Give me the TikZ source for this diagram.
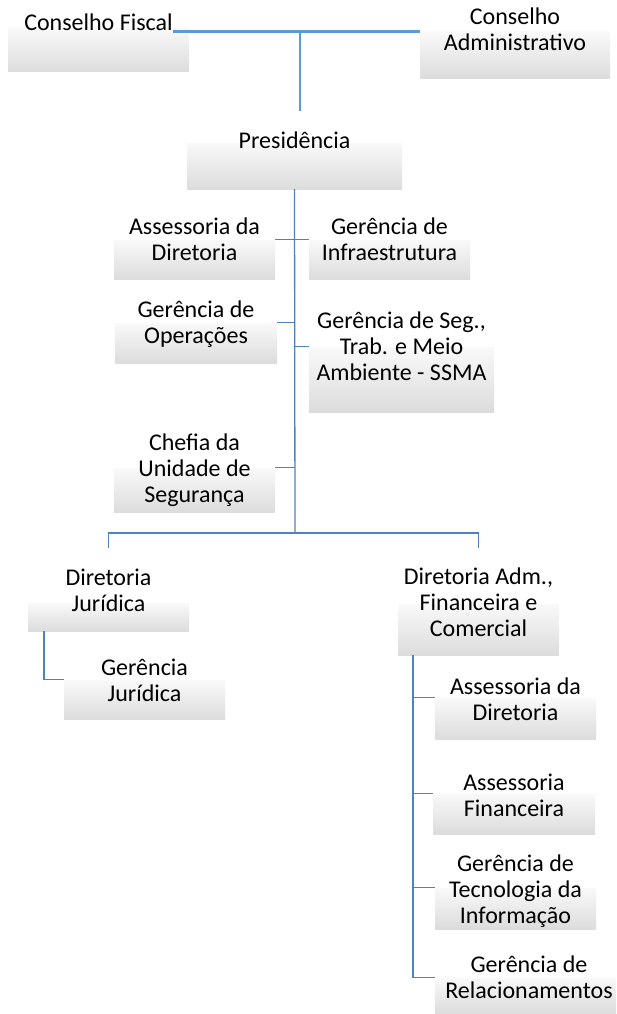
\documentclass[tikz,border=0pt]{standalone}
\usepackage{fontspec}
\setmainfont{Carlito}
\definecolor{topblue}{HTML}{5B9BD5}
\definecolor{linkblue}{HTML}{4F81BD}
\definecolor{boxtop}{HTML}{F9F9F9}
\definecolor{boxbot}{HTML}{DCDCDC}
\tikzset{
  orgbox/.style={rectangle, draw=none, inner sep=0pt, top color=boxtop, bottom color=boxbot},
  orgtext/.style={inner sep=0pt, align=center, font=\fontsize{24}{26}\selectfont, text=black, yshift=-1.5pt},
  thickconn/.style={draw=topblue, line width=2.7pt},
  conn/.style={draw=linkblue, line width=1.3pt},
}
\begin{document}
\begin{tikzpicture}[x=1pt,y=-1pt]
\useasboundingbox (0,0) rectangle (616,1014);
% boxes
\node[orgbox, minimum width=181pt, minimum height=44pt] (cf)   at (98.5,50) {};
\node[orgbox, minimum width=190pt, minimum height=47pt] (ca)   at (515,55.5) {};
\node[orgbox, minimum width=215pt, minimum height=46pt] (pres) at (294.5,166) {};
\node[orgbox, minimum width=161pt, minimum height=39pt] (adl)  at (194.5,259.5) {};
\node[orgbox, minimum width=161pt, minimum height=39pt] (gi)   at (389.5,259.5) {};
\node[orgbox, minimum width=162pt, minimum height=40pt] (go)   at (196,343) {};
\node[orgbox, minimum width=185pt, minimum height=65pt] (ssma) at (401.5,379.5) {};
\node[orgbox, minimum width=161pt, minimum height=44pt] (ch)   at (194.5,490) {};
\node[orgbox, minimum width=161pt, minimum height=28pt] (dj)   at (108.5,617) {};
\node[orgbox, minimum width=161pt, minimum height=51pt] (dafc) at (478.5,629.5) {};
\node[orgbox, minimum width=161pt, minimum height=39pt] (gj)   at (144.5,699.5) {};
\node[orgbox, minimum width=161pt, minimum height=41pt] (adr)  at (515.5,718.5) {};
\node[orgbox, minimum width=162pt, minimum height=40pt] (af)   at (514,814) {};
\node[orgbox, minimum width=161pt, minimum height=41pt] (gti)  at (515.5,908.5) {};
\node[orgbox, minimum width=181pt, minimum height=35pt] (gr)   at (525.5,995.5) {};
% texts
\node[orgtext] (cft)   at (98.5,24.3)  {\strut Conselho Fiscal\strut};
\node[orgtext] (cat)   at (515,31.3)   {\strut Conselho\\Administrativo\strut};
\node[orgtext] (prest) at (294.5,141.3) {\strut Presidência\strut};
\node[orgtext] (adlt)  at (194.5,241)  {\strut Assessoria da\\Diretoria\strut};
\node[orgtext] (git)   at (389.5,240.8) {\strut Gerência de\\Infraestrutura\strut};
\node[orgtext] (got)   at (196,323.8)  {\strut Gerência de\\Operações\strut};
\node[orgtext] (ssmat) at (401.5,348)  {\strut Gerência de Seg.,\\Trab. e Meio\\Ambiente - SSMA\strut};
\node[orgtext] (cht)   at (194.5,469.3) {\strut Chefia da\\Unidade de\\Segurança\strut};
\node[orgtext] (djt)   at (108.5,591.3) {\strut Diretoria\\Jurídica\strut};
\node[orgtext] (dafct) at (478.5,604)  {\strut Diretoria Adm.,\\Financeira e\\Comercial\strut};
\node[orgtext] (gjt)   at (144.5,681.3) {\strut Gerência\\Jurídica\strut};
\node[orgtext] (adrt)  at (515.5,700.3) {\strut Assessoria da\\Diretoria\strut};
\node[orgtext] (aft)   at (514,796.3)  {\strut Assessoria\\Financeira\strut};
\node[orgtext] (gtit)  at (515.5,890.6) {\strut Gerência de\\Tecnologia da\\Informação\strut};
\node[orgtext] (grt)   at (529,978.8)  {\strut Gerência de\\Relacionamentos\strut};
% junction coordinates
\coordinate (topj) at (300,32);
\coordinate (topend) at (300,111);
\coordinate (spinebot) at (295,533);
\coordinate (djdrop) at (108.5,548);
\coordinate (dafcdrop) at (478.5,548);
\coordinate (djx) at (44,631);
\coordinate (dafcx) at (413,655);
% top connectors
\draw[thickconn] (cft.east |- ca.north west) -- (ca.north west);
\draw[thickconn] (topj) -- (topend);
% spine
\draw[conn] (pres.south) -- (spinebot);
\draw[conn] (adl.north east) -- (adl.north east -| pres.south);
\draw[conn] (gi.north west) -- (gi.north west -| pres.south);
\draw[conn] (go.north east) -- (go.north east -| pres.south);
\draw[conn] (ssma.north west) -- (ssma.north west -| pres.south);
\draw[conn] (ch.north east) -- (ch.north east -| pres.south);
\draw[conn] (djdrop) |- (spinebot) -| (dafcdrop);
% Diretoria Juridica
\draw[conn] (djx) |- (gj.north west);
% Diretoria Adm
\draw[conn] (dafcx) |- (gr.north west);
\draw[conn] (dafcx |- adr.north west) -- (adr.north west);
\draw[conn] (dafcx |- af.north west) -- (af.north west);
\draw[conn] (dafcx |- gti.north west) -- (gti.north west);
\end{tikzpicture}
\end{document}
